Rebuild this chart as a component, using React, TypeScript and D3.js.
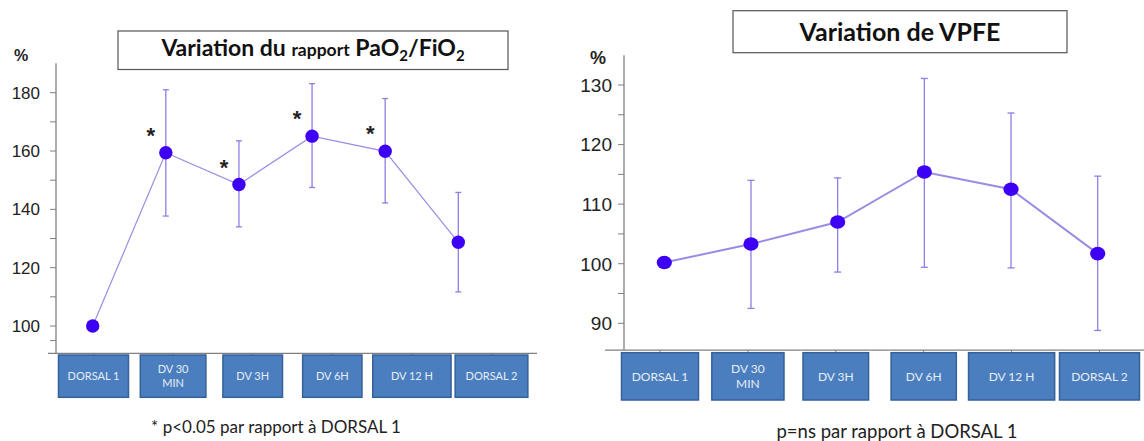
import React from "react";
import * as d3 from "d3";

// ---------- data ----------
const categories = ["DORSAL 1", "DV 30 MIN", "DV 3H", "DV 6H", "DV 12 H", "DORSAL 2"];
const boxLabels = [["DORSAL 1"], ["DV 30", "MIN"], ["DV 3H"], ["DV 6H"], ["DV 12 H"], ["DORSAL 2"]];

const pafMean = [100, 159.4, 148.5, 165.1, 159.9, 128.7];
const pafUpper = [null, 181.0, 163.5, 183.1, 178.0, 145.8];
const pafLower = [null, 137.7, 134.0, 147.5, 142.2, 111.7];
const pafSignificant = [false, true, true, true, true, false];

const vpfeMean = [100.2, 103.3, 107.0, 115.4, 112.5, 101.7];
const vpfeUpper = [null, 114.0, 114.4, 131.1, 125.3, 114.7];
const vpfeLower = [null, 92.5, 98.6, 99.4, 99.3, 88.8];

const yTicksLeft = [100, 120, 140, 160, 180];
const yMinorLeft = [95, 110, 130, 150, 170];
const yTicksRight = [90, 100, 110, 120, 130];
const yMinorRight = [95, 105, 115, 125];

// ---------- layout / style ----------
const boxRelWidths = [70, 65.6, 59.6, 59.3, 78.3, 72.7];

const POINT = "#3d00f5";
const LINE = "#9a8ce4";
const ERR = "#8c7fe6";
const AXIS = "#808080";
const BOX_FILL = "#4b7ebe";
const BOX_STROKE = "#35609a";
const BOX_TEXT = "#e6edf7";
const TITLE_FONT = "Lato, 'Open Sans', sans-serif";
const AXIS_FONT = "'Liberation Sans', Arial, sans-serif";

type PanelCfg = {
  mean: number[];
  upper: (number | null)[];
  lower: (number | null)[];
  sig?: boolean[];
  yDomain: [number, number];
  yRange: [number, number];
  yExtent: [number, number];
  major: number[];
  minor: number[];
  axisX: number;
  labelGap: number;
  xAxisFrom: number;
  xAxisTo: number;
  pointRange: [number, number];
  tickRange: [number, number];
  boxTop: number;
  boxBottom: number;
  boxScale: number;
  boxFont: number;
  labelFont: number;
  rx: number;
  ry: number;
  lineWidth: number;
  capW: number;
};

function Panel({ c }: { c: PanelCfg }) {
  const y = d3.scaleLinear().domain(c.yDomain).range(c.yRange);
  const xp = d3.scalePoint<string>().domain(categories).range(c.pointRange);
  const xt = d3.scalePoint<string>().domain(categories).range(c.tickRange);
  const yTop = y(c.yExtent[1]);
  const yBot = y(c.yExtent[0]);
  const line = d3
    .line<number>()
    .x((_, i) => xp(categories[i]) as number)
    .y((d) => y(d));
  return (
    <g>
      {/* axes */}
      <line x1={c.axisX} x2={c.axisX} y1={yTop} y2={yBot} stroke={AXIS} strokeWidth={1.3} />
      <line x1={c.xAxisFrom} x2={c.xAxisTo} y1={yBot} y2={yBot} stroke={AXIS} strokeWidth={1.3} />
      {c.major.map((t) => (
        <g key={"M" + t}>
          <line x1={c.axisX - 6} x2={c.axisX} y1={y(t)} y2={y(t)} stroke={AXIS} strokeWidth={1} />
          <text
            x={c.axisX - c.labelGap}
            y={y(t)}
            dy="0.36em"
            textAnchor="end"
            fontFamily={AXIS_FONT}
            fontSize={c.labelFont}
            fill="#222"
          >
            {t}
          </text>
        </g>
      ))}
      {c.minor.map((t) => (
        <line key={"m" + t} x1={c.axisX - 6} x2={c.axisX} y1={y(t)} y2={y(t)} stroke={AXIS} strokeWidth={1} />
      ))}
      {categories.map((cat) => (
        <line key={"xt" + cat} x1={xt(cat)} x2={xt(cat)} y1={yBot} y2={yBot + 4} stroke={AXIS} strokeWidth={1} />
      ))}
      {/* category boxes */}
      {categories.map((cat, i) => {
        const w = boxRelWidths[i] * c.boxScale;
        const cx = xt(cat) as number;
        const lines = boxLabels[i];
        const mid = (c.boxTop + c.boxBottom) / 2;
        return (
          <g key={"b" + cat}>
            <rect
              x={cx - w / 2}
              y={c.boxTop}
              width={w}
              height={c.boxBottom - c.boxTop}
              fill={BOX_FILL}
              stroke={BOX_STROKE}
              strokeWidth={1.5}
            />
            {lines.map((l, k) => (
              <text
                key={k}
                x={cx}
                y={mid + (k - (lines.length - 1) / 2) * c.boxFont * 1.3}
                dy="0.35em"
                textAnchor="middle"
                fontFamily={TITLE_FONT}
                fontSize={c.boxFont}
                fill={BOX_TEXT}
              >
                {l}
              </text>
            ))}
          </g>
        );
      })}
      {/* error bars */}
      {categories.map((cat, i) => {
        const up = c.upper[i];
        const lo = c.lower[i];
        if (up == null || lo == null) return null;
        const x = xp(cat) as number;
        return (
          <g key={"e" + cat} stroke={ERR} strokeWidth={1.3}>
            <line x1={x} x2={x} y1={y(up)} y2={y(lo)} />
            <line x1={x - c.capW} x2={x + c.capW} y1={y(up)} y2={y(up)} />
            <line x1={x - c.capW} x2={x + c.capW} y1={y(lo)} y2={y(lo)} />
          </g>
        );
      })}
      {/* line */}
      <path d={line(c.mean) || ""} fill="none" stroke={LINE} strokeWidth={c.lineWidth} />
      {/* points */}
      {categories.map((cat, i) => (
        <ellipse key={"p" + cat} cx={xp(cat)} cy={y(c.mean[i])} rx={c.rx} ry={c.ry} fill={POINT} />
      ))}
      {/* significance stars */}
      {c.sig &&
        categories.map((cat, i) =>
          c.sig![i] ? (
            <text
              key={"s" + cat}
              x={(xp(cat) as number) - 15}
              y={y(c.mean[i]) - 10}
              textAnchor="middle"
              fontFamily={AXIS_FONT}
              fontSize={22}
              fontWeight="bold"
              fill="#222"
            >
              *
            </text>
          ) : null
        )}
    </g>
  );
}

export default function App() {
  const left: PanelCfg = {
    mean: pafMean,
    upper: pafUpper,
    lower: pafLower,
    sig: pafSignificant,
    yDomain: [100, 180],
    yRange: [326, 92.7],
    yExtent: [90.6, 190.1],
    major: yTicksLeft,
    minor: yMinorLeft,
    axisX: 56,
    labelGap: 16,
    xAxisFrom: 48,
    xAxisTo: 537,
    pointRange: [92.7, 458.3],
    tickRange: [93.5, 491.5],
    boxTop: 355,
    boxBottom: 397.3,
    boxScale: 1,
    boxFont: 11,
    labelFont: 17,
    rx: 6.7,
    ry: 6.7,
    lineWidth: 1.2,
    capW: 3,
  };
  const right: PanelCfg = {
    mean: vpfeMean,
    upper: vpfeUpper,
    lower: vpfeLower,
    yDomain: [90, 130],
    yRange: [323.3, 85],
    yExtent: [85.5, 135],
    major: yTicksRight,
    minor: yMinorRight,
    axisX: 624,
    labelGap: 12,
    xAxisFrom: 605,
    xAxisTo: 1144,
    pointRange: [664.3, 1097.7],
    tickRange: [660, 1099.5],
    boxTop: 352.7,
    boxBottom: 400,
    boxScale: 1.1,
    boxFont: 12,
    labelFont: 19,
    rx: 7.6,
    ry: 6.8,
    lineWidth: 2,
    capW: 3.5,
  };
  return (
    <svg
      width={1144}
      height={441}
      style={{ position: "absolute", left: 0, top: 0, background: "#fff" }}
    >
      <rect x={0} y={0} width={1144} height={441} fill="#fff" />
      {/* Left title */}
      <rect x={118} y={31} width={390} height={38.5} fill="#fff" stroke="#555" strokeWidth={1.2} />
      <text x={313} y={47.5} dy="0.35em" textAnchor="middle" fontFamily={TITLE_FONT} fontWeight="bold" fontSize={23} fill="#111">
        Variation du{" "}
        <tspan fontSize={17.5}>rapport</tspan> PaO
        <tspan fontSize={15} dy={5}>2</tspan>
        <tspan dy={-5}>/FiO</tspan>
        <tspan fontSize={15} dy={5}>2</tspan>
      </text>
      <text x={21} y={55} dy="0.35em" textAnchor="middle" fontFamily={AXIS_FONT} fontWeight="bold" fontSize={16} fill="#222">
        %
      </text>
      <Panel c={left} />
      <text x={276} y={427} dy="0.35em" textAnchor="middle" fontFamily={TITLE_FONT} fontSize={17} fill="#222">
        * p&lt;0.05 par rapport à DORSAL 1
      </text>

      {/* Right title */}
      <rect x={733} y={10.7} width={334} height={42} fill="#fff" stroke="#555" strokeWidth={1.2} />
      <text x={900} y={32.5} dy="0.35em" textAnchor="middle" fontFamily={TITLE_FONT} fontWeight="bold" fontSize={25} fill="#111">
        Variation de VPFE
      </text>
      <text x={598} y={58} dy="0.35em" textAnchor="middle" fontFamily={AXIS_FONT} fontWeight="bold" fontSize={18} fill="#222">
        %
      </text>
      <Panel c={right} />
      <text x={897} y={432} dy="0.35em" textAnchor="middle" fontFamily={TITLE_FONT} fontSize={18.5} fill="#222">
        p=ns par rapport à DORSAL 1
      </text>
    </svg>
  );
}
